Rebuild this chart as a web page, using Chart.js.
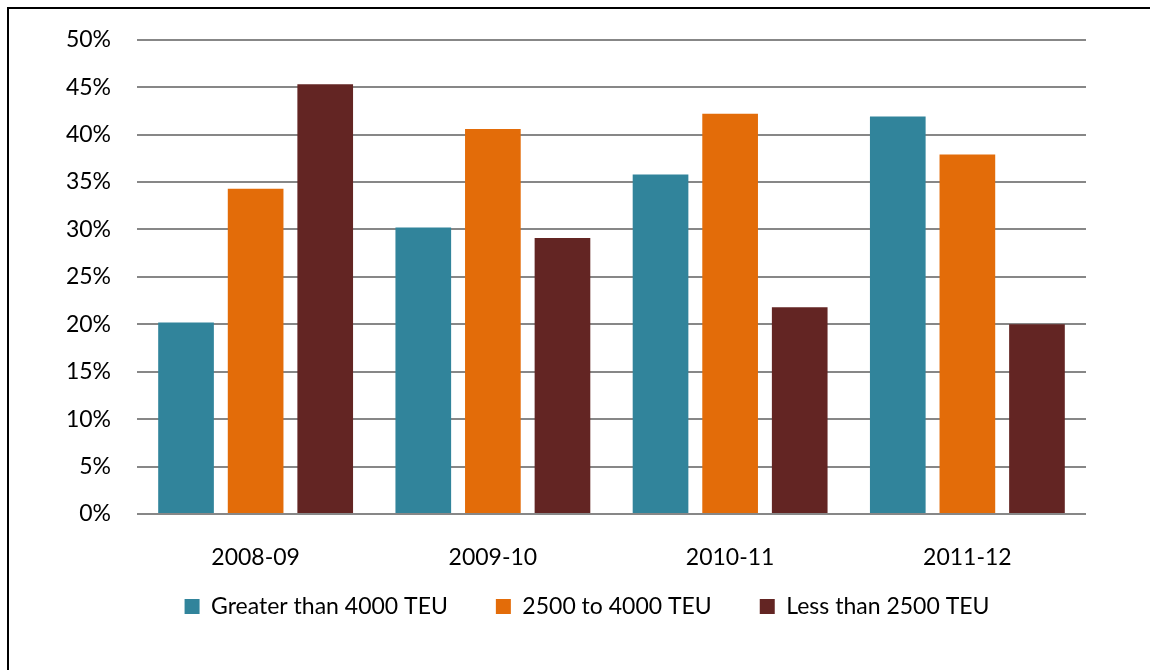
<!DOCTYPE html>
<html>
<head>
<meta charset="utf-8">
<script src="https://cdn.jsdelivr.net/npm/chart.js@4"></script>
<style>
  html, body { margin: 0; padding: 0; background: #fff; }
  #wrap { position: relative; width: 1150px; height: 670px; overflow: hidden; }
  #frame {
    position: absolute; left: 7px; top: 7px; right: -10px; bottom: -10px;
    border-top: 2.5px solid #000; border-left: 2.5px solid #000;
    pointer-events: none;
  }
</style>
</head>
<body>
<div id="wrap">
  <canvas id="grafico" width="1150" height="670"></canvas>
  <div id="frame"></div>
</div>
<script>
// share of tonnage by vessel size (%)
const categories = ["2008-09", "2009-10", "2010-11", "2011-12"];
const greater4000 = [20.2, 30.2, 35.8, 41.9];
const from2500to4000 = [34.3, 40.6, 42.2, 37.9];
const less2500 = [45.3, 29.1, 21.8, 20.0];

const yMax = 50;
const yStep = 5;

const FONT = "Lato";
const FONT_SIZE = 23;

// move the legend row after layout: centred a bit right of the canvas, up under the axis labels
const legendPlace = {
  id: "legendPlace",
  afterLayout(chart) {
    const lg = chart.legend;
    if (!lg) return;
    const dx = 587 - (lg.left + lg.right) / 2;
    const dy = 547 - lg.top;
    lg.left += dx; lg.right += dx;
    lg.top += dy; lg.bottom += dy;
  }
};

const ctx = document.getElementById("grafico").getContext("2d");
new Chart(ctx, {
  type: "bar",
  data: {
    labels: categories,
    datasets: [
      { label: "Greater than 4000 TEU", data: greater4000, backgroundColor: "#31849B" },
      { label: "2500 to 4000 TEU", data: from2500to4000, backgroundColor: "#E36C09" },
      { label: "Less than 2500 TEU", data: less2500, backgroundColor: "#632523" }
    ]
  },
  plugins: [legendPlace],
  options: {
    responsive: false,
    animation: false,
    layout: { padding: { top: 39, right: 64, bottom: 15, left: 20 } },
    datasets: {
      bar: { categoryPercentage: 0.88, barPercentage: 0.8 }
    },
    plugins: {
      tooltip: { enabled: false },
      legend: {
        position: "bottom",
        labels: {
          boxWidth: 15,
          boxHeight: 15,
          padding: 48,
          color: "#000",
          font: { family: FONT, size: FONT_SIZE }
        }
      }
    },
    scales: {
      x: {
        grid: { display: false },
        border: { display: false },
        ticks: { color: "#000", padding: 22, font: { family: FONT, size: FONT_SIZE } },
        afterFit: s => { s.height = 60; }
      },
      y: {
        min: 0,
        max: yMax,
        border: { display: false },
        grid: { color: "#878787", lineWidth: 2, drawTicks: false },
        ticks: {
          stepSize: yStep,
          color: "#000",
          padding: 26,
          font: { family: FONT, size: FONT_SIZE },
          callback: v => v + "%"
        },
        afterFit: s => { s.width = 117; }
      }
    }
  }
});
</script>
</body>
</html>
